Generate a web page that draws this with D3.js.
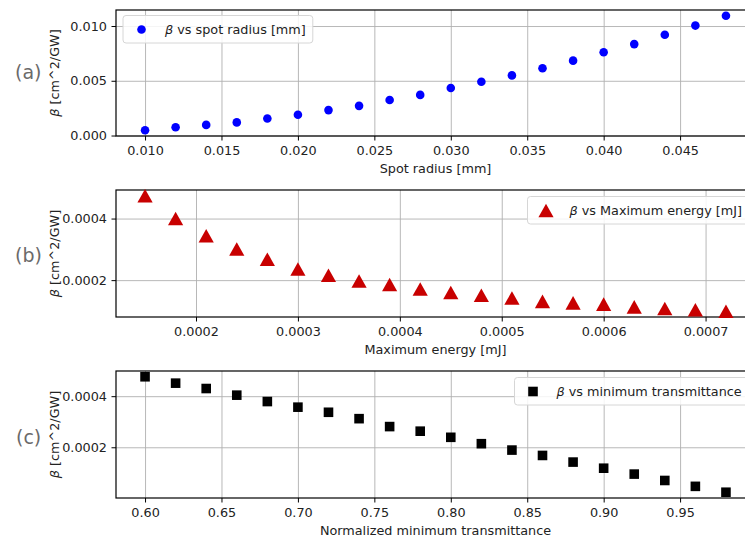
<!DOCTYPE html>
<html>
<head>
<meta charset="utf-8">
<script src="https://cdn.jsdelivr.net/npm/d3@7"></script>
<style>
  body { margin: 0; background: #fff; }
  text { font-family: "DejaVu Sans", sans-serif; }
</style>
</head>
<body>
<div id="chart"></div>
<script>
// values
const spotRadius = [0.010, 0.012, 0.014, 0.016, 0.018, 0.020, 0.022, 0.024, 0.026, 0.028,
                    0.030, 0.032, 0.034, 0.036, 0.038, 0.040, 0.042, 0.044, 0.046, 0.048];
const betaSpot = [0.00048, 0.00075, 0.00097, 0.00120, 0.00156, 0.00190, 0.00232, 0.00271, 0.00325, 0.00371,
                  0.00434, 0.00491, 0.00549, 0.00615, 0.00684, 0.00760, 0.00835, 0.00920, 0.01004, 0.01094];

const maxEnergy = [0.00015, 0.00018, 0.00021, 0.00024, 0.00027, 0.00030, 0.00033, 0.00036, 0.00039, 0.00042,
                   0.00045, 0.00048, 0.00051, 0.00054, 0.00057, 0.00060, 0.00063, 0.00066, 0.00069, 0.00072];
const betaEnergy = [0.000474, 0.000400, 0.000344, 0.000301, 0.000268, 0.000236, 0.000216, 0.000197, 0.000186, 0.000171,
                    0.000160, 0.000151, 0.000142, 0.000131, 0.000126, 0.000122, 0.000113, 0.000108, 0.000104, 0.000099];

const minTrans = [0.60, 0.62, 0.64, 0.66, 0.68, 0.70, 0.72, 0.74, 0.76, 0.78,
                  0.80, 0.82, 0.84, 0.86, 0.88, 0.90, 0.92, 0.94, 0.96, 0.98];
const betaTrans = [0.000476, 0.000451, 0.000430, 0.000404, 0.000379, 0.000357, 0.000337, 0.000312, 0.000281, 0.000263,
                   0.000239, 0.000214, 0.000189, 0.000168, 0.000142, 0.000118, 0.000095, 0.000070, 0.000047, 0.000024];

// tick labels
const spotTicks = [0.010, 0.015, 0.020, 0.025, 0.030, 0.035, 0.040, 0.045];
const spotYTicks = [0.000, 0.005, 0.010];
const energyTicks = [0.0002, 0.0003, 0.0004, 0.0005, 0.0006, 0.0007];
const energyYTicks = [0.0002, 0.0004];
const transTicks = [0.60, 0.65, 0.70, 0.75, 0.80, 0.85, 0.90, 0.95];
const transYTicks = [0.0002, 0.0004];

const width = 745, height = 541;
const left = 116, right = 755;
const fs = 12.8;

const svg = d3.select("#chart")
  .append("svg")
    .attr("width", width)
    .attr("height", height);

svg.append("rect").attr("width", width).attr("height", height).attr("fill", "#fff");

// matplotlib style 5% margins
function padded(vals) {
  const ext = d3.extent(vals), d = (ext[1] - ext[0]) * 0.05;
  return [ext[0] - d, ext[1] + d];
}

const triangle = "M0,-6.8L7.6,6.8L-7.6,6.8Z";
const square = "M-4.8,-4.8H4.8V4.8H-4.8Z";

function panel(p) {
  const x = d3.scaleLinear().domain(padded(p.xs)).range([left, right]);
  const y = d3.scaleLinear().domain(padded(p.ys)).range([p.bottom, p.top]);
  const g = svg.append("g");

  // grid
  g.append("g")
    .attr("transform", `translate(0,${p.bottom})`)
    .call(d3.axisBottom(x).tickValues(p.xTicks).tickSize(-(p.bottom - p.top)).tickFormat(""))
    .call(a => a.select(".domain").remove())
    .call(a => a.selectAll("line").attr("stroke", "#b0b0b0").attr("stroke-width", 0.9));
  g.append("g")
    .attr("transform", `translate(${left},0)`)
    .call(d3.axisLeft(y).tickValues(p.yTicks).tickSize(-(right - left)).tickFormat(""))
    .call(a => a.select(".domain").remove())
    .call(a => a.selectAll("line").attr("stroke", "#b0b0b0").attr("stroke-width", 0.9));

  // spines
  g.append("rect")
    .attr("x", left).attr("y", p.top)
    .attr("width", right - left).attr("height", p.bottom - p.top)
    .attr("fill", "none").attr("stroke", "#000").attr("stroke-width", 1.2);

  // axes
  const xAxis = g.append("g")
    .attr("transform", `translate(0,${p.bottom})`)
    .call(d3.axisBottom(x).tickValues(p.xTicks).tickFormat(d3.format(p.xFmt)).tickSize(4.5).tickPadding(5.5));
  const yAxis = g.append("g")
    .attr("transform", `translate(${left},0)`)
    .call(d3.axisLeft(y).tickValues(p.yTicks).tickFormat(d3.format(p.yFmt)).tickSize(4.5).tickPadding(4.5));
  [xAxis, yAxis].forEach(a => {
    a.select(".domain").remove();
    a.selectAll("line").attr("stroke", "#000").attr("stroke-width", 1);
    a.selectAll("text").attr("font-size", fs).attr("fill", "#222")
      .attr("font-family", "DejaVu Sans");
  });

  // markers
  const pts = p.xs.map((v, i) => [v, p.ys[i]]);
  if (p.marker === "circle") {
    g.append("g").selectAll("circle").data(pts).join("circle")
      .attr("cx", d => x(d[0])).attr("cy", d => y(d[1]))
      .attr("r", 4.3).attr("fill", p.color);
  } else {
    g.append("g").selectAll("path").data(pts).join("path")
      .attr("transform", d => `translate(${x(d[0])},${y(d[1])})`)
      .attr("d", p.marker).attr("fill", p.color);
  }

  // axis titles
  g.append("text")
    .attr("x", (left + right) / 2).attr("y", p.bottom + 36.5)
    .attr("text-anchor", "middle").attr("font-size", fs).attr("fill", "#222")
    .text(p.xLabel);
  const yl = g.append("text")
    .attr("transform", `translate(54,${(p.top + p.bottom) / 2}) rotate(-90)`)
    .attr("text-anchor", "middle").attr("dominant-baseline", "central")
    .attr("font-size", fs).attr("fill", "#222");
  yl.append("tspan").attr("font-style", "italic").text("β");
  yl.append("tspan").text(" [cm^2/GW]");

  // panel letter
  g.append("text")
    .attr("x", p.letterX).attr("y", p.letterY)
    .attr("dominant-baseline", "central")
    .attr("font-family", "'Open Sans', sans-serif").attr("font-size", 19).attr("fill", "#6a6a6a")
    .text(p.letter);

  // legend
  const lg = g.append("g");
  const box = lg.append("rect")
    .attr("x", p.legX).attr("y", p.legY).attr("height", 27.5)
    .attr("rx", 3).attr("fill", "#fff").attr("fill-opacity", 0.85)
    .attr("stroke", "#d6d6d6").attr("stroke-width", 1);
  const mx = p.legX + 18.5, my = p.legY + 14;
  if (p.marker === "circle") {
    lg.append("circle").attr("cx", mx).attr("cy", my).attr("r", 4.3).attr("fill", p.color);
  } else {
    lg.append("path").attr("transform", `translate(${mx},${my})`).attr("d", p.marker).attr("fill", p.color);
  }
  const lt = lg.append("text")
    .attr("x", p.legX + 42).attr("y", my + 4.5)
    .attr("font-size", fs).attr("fill", "#222");
  lt.append("tspan").attr("font-style", "italic").text("β");
  lt.append("tspan").text(" vs " + p.legend);
  box.attr("width", 42 + lt.node().getComputedTextLength() + 7);
}

panel({
  xs: spotRadius, ys: betaSpot, top: 10, bottom: 136,
  xTicks: spotTicks, yTicks: spotYTicks, xFmt: ".3f", yFmt: ".3f",
  marker: "circle", color: "#0000ff",
  xLabel: "Spot radius [mm]", letter: "(a)", letterX: 15, letterY: 72,
  legend: "spot radius [mm]", legX: 123, legY: 15.5
});

panel({
  xs: maxEnergy, ys: betaEnergy, top: 190, bottom: 317,
  xTicks: energyTicks, yTicks: energyYTicks, xFmt: ".4f", yFmt: ".4f",
  marker: triangle, color: "#c80000",
  xLabel: "Maximum energy [mJ]", letter: "(b)", letterX: 15, letterY: 255,
  legend: "Maximum energy [mJ]", legX: 527.5, legY: 196.5
});

panel({
  xs: minTrans, ys: betaTrans, top: 371, bottom: 498,
  xTicks: transTicks, yTicks: transYTicks, xFmt: ".2f", yFmt: ".4f",
  marker: square, color: "#000",
  xLabel: "Normalized minimum transmittance", letter: "(c)", letterX: 16, letterY: 437,
  legend: "minimum transmittance", legX: 514.5, legY: 377.5
});
</script>
</body>
</html>
